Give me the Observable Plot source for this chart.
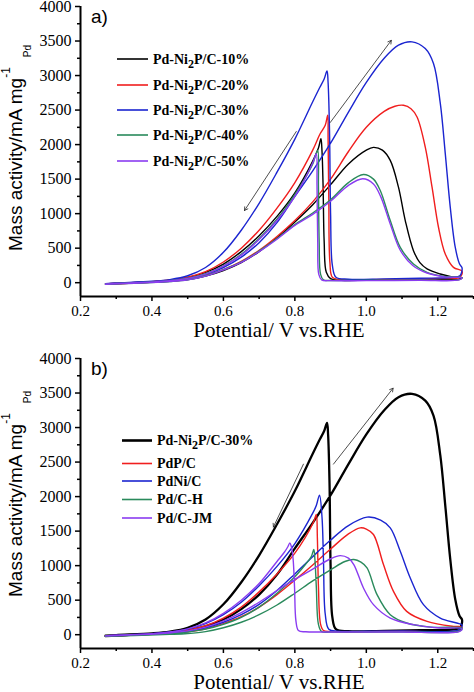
<!DOCTYPE html>
<html>
<head>
<meta charset="utf-8">
<script src="https://cdn.jsdelivr.net/npm/d3@7"></script>
<script src="https://cdn.jsdelivr.net/npm/@observablehq/plot@0.6"></script>
<style>
  html, body { margin: 0; padding: 0; background: #fff; }
  svg { display: block; }
</style>
</head>
<body>
<div id="chart"></div>
<script>
// ---------- axis ticks ----------
const xTicks = [0.2, 0.4, 0.6, 0.8, 1.0, 1.2];
const xMinor = [0.3, 0.5, 0.7, 0.9, 1.1, 1.3];
const yTicks = [0, 500, 1000, 1500, 2000, 2500, 3000, 3500, 4000];
const yMinor = [250, 750, 1250, 1750, 2250, 2750, 3250, 3750];

// ---------- panel a series: [potential V, mass activity mA/mg] ----------
const pd10 = [
  [0.27,-20],[0.35,-5],[0.45,20],[0.5,45],[0.55,95],[0.6,175],[0.65,290],[0.7,450],[0.75,650],[0.8,880],[0.85,1130],[0.9,1420],[0.95,1720],[1.0,1920],[1.02,1960],[1.045,1920],[1.067,1771],[1.09,1383],[1.109,900],[1.132,464],[1.15,290],[1.17,200],[1.207,126],[1.24,85],[1.268,70],
  [1.26,50],[1.2,45],[1.1,40],[1.0,35],[0.93,35],[0.9,60],[0.888,150],[0.882,600],[0.879,1400],[0.876,1900],[0.873,2085],[0.866,1950],[0.85,1760],[0.8,1300],[0.75,960],[0.7,680],[0.65,450],[0.6,270],[0.55,150],[0.5,75],[0.45,35],[0.4,15],[0.3,-10],[0.27,-18]
];
const pd20 = [
  [0.27,-20],[0.35,-5],[0.45,22],[0.5,50],[0.55,105],[0.6,190],[0.65,310],[0.7,470],[0.75,670],[0.8,900],[0.85,1170],[0.9,1500],[0.95,1900],[1.0,2250],[1.05,2480],[1.08,2555],[1.104,2569],[1.125,2520],[1.142,2400],[1.165,1964],[1.184,1383],[1.202,803],[1.221,416],[1.244,222],[1.268,165],
  [1.262,80],[1.2,60],[1.1,50],[1.0,45],[0.93,45],[0.905,80],[0.898,300],[0.895,1200],[0.893,2100],[0.892,2424],[0.885,2280],[0.87,2150],[0.85,1920],[0.8,1450],[0.75,1080],[0.7,760],[0.65,500],[0.6,300],[0.55,160],[0.5,80],[0.45,38],[0.4,15],[0.3,-8],[0.27,-18]
];
const pd30 = [
  [0.27,-20],[0.35,0],[0.45,28],[0.5,60],[0.55,120],[0.6,220],[0.65,370],[0.7,580],[0.75,870],[0.8,1250],[0.85,1620],[0.9,2020],[0.95,2470],[1.0,2900],[1.05,3250],[1.09,3440],[1.128,3488],[1.165,3390],[1.188,3174],[1.207,2600],[1.221,1870],[1.235,1090],[1.249,510],[1.261,270],[1.268,215],
  [1.262,100],[1.24,75],[1.15,65],[1.05,55],[0.95,50],[0.915,80],[0.905,250],[0.9,1000],[0.897,2200],[0.893,2900],[0.890,3067],[0.882,2950],[0.87,2830],[0.85,2620],[0.8,2080],[0.75,1600],[0.7,1150],[0.65,760],[0.6,440],[0.55,220],[0.5,100],[0.45,45],[0.4,20],[0.3,-5],[0.27,-15]
];
const pd40 = [
  [0.27,-22],[0.35,-8],[0.45,18],[0.5,42],[0.55,100],[0.6,190],[0.65,300],[0.7,460],[0.75,640],[0.8,840],[0.85,1010],[0.9,1200],[0.95,1450],[0.992,1567],[1.02,1500],[1.039,1335],[1.067,900],[1.095,512],[1.132,271],[1.17,150],[1.22,90],[1.268,75],
  [1.26,45],[1.15,40],[1.0,35],[0.9,32],[0.88,40],[0.872,120],[0.868,600],[0.866,1400],[0.864,1916],[0.855,1800],[0.85,1720],[0.8,1280],[0.75,920],[0.7,640],[0.65,410],[0.6,245],[0.55,130],[0.5,65],[0.45,30],[0.4,10],[0.3,-12],[0.27,-20]
];
const pd50 = [
  [0.27,-22],[0.35,-8],[0.45,16],[0.5,40],[0.55,95],[0.6,185],[0.65,295],[0.7,450],[0.75,630],[0.8,830],[0.85,990],[0.9,1180],[0.95,1410],[0.99,1505],[1.02,1430],[1.04,1250],[1.067,850],[1.095,470],[1.13,250],[1.17,140],[1.22,85],[1.268,70],
  [1.26,40],[1.15,35],[1.0,30],[0.9,30],[0.875,40],[0.867,120],[0.864,600],[0.862,1400],[0.86,1868],[0.852,1760],[0.8,1250],[0.75,900],[0.7,625],[0.65,400],[0.6,240],[0.55,125],[0.5,62],[0.45,28],[0.4,10],[0.3,-12],[0.27,-20]
];

// ---------- panel b series ----------
const pdpC = [
  [0.27,-20],[0.35,-5],[0.45,20],[0.5,40],[0.55,85],[0.6,160],[0.65,260],[0.7,400],[0.75,580],[0.8,790],[0.85,1010],[0.9,1240],[0.95,1460],[0.983,1547],[1.0,1530],[1.02,1451],[1.048,1016],[1.076,628],[1.113,338],[1.17,193],[1.244,120],[1.268,110],
  [1.26,60],[1.1,50],[1.0,45],[0.9,45],[0.88,60],[0.872,150],[0.866,700],[0.863,1400],[0.86,1742],[0.853,1640],[0.8,1180],[0.75,880],[0.7,620],[0.65,400],[0.6,240],[0.55,130],[0.5,65],[0.45,30],[0.4,12],[0.3,-10],[0.27,-18]
];
const pdNiC = [
  [0.27,-20],[0.35,-5],[0.45,20],[0.5,45],[0.55,100],[0.6,180],[0.65,290],[0.7,440],[0.75,640],[0.8,880],[0.85,1130],[0.9,1370],[0.95,1580],[1.002,1702],[1.04,1660],[1.067,1547],[1.095,1209],[1.123,822],[1.16,435],[1.207,241],[1.253,169],[1.268,140],
  [1.26,70],[1.1,55],[1.0,50],[0.92,50],[0.895,80],[0.885,300],[0.88,1100],[0.876,1700],[0.869,2022],[0.86,1870],[0.85,1760],[0.8,1320],[0.75,990],[0.7,710],[0.65,470],[0.6,290],[0.55,160],[0.5,80],[0.45,38],[0.4,15],[0.3,-8],[0.27,-18]
];
const pdCH = [
  [0.27,-25],[0.35,-12],[0.45,5],[0.5,18],[0.55,45],[0.6,100],[0.65,180],[0.7,290],[0.75,430],[0.8,600],[0.85,780],[0.9,940],[0.94,1060],[0.965,1089],[0.985,1050],[1.002,967],[1.03,580],[1.067,290],[1.113,169],[1.18,110],[1.268,95],
  [1.26,50],[1.1,40],[1.0,38],[0.9,38],[0.875,45],[0.866,150],[0.86,700],[0.856,1100],[0.853,1234],[0.846,1130],[0.83,1020],[0.8,840],[0.75,600],[0.7,400],[0.65,250],[0.6,150],[0.55,80],[0.5,40],[0.45,15],[0.4,5],[0.3,-15],[0.27,-22]
];
const pdCJM = [
  [0.27,-20],[0.35,-3],[0.45,25],[0.5,55],[0.55,110],[0.6,200],[0.65,320],[0.7,470],[0.75,640],[0.8,800],[0.85,950],[0.9,1100],[0.927,1145],[0.95,1110],[0.965,1016],[0.992,677],[1.02,435],[1.067,241],[1.132,145],[1.2,100],[1.268,85],
  [1.26,45],[1.1,40],[1.0,38],[0.9,40],[0.83,42],[0.81,60],[0.803,200],[0.799,700],[0.795,1100],[0.79,1280],[0.786,1330],[0.78,1270],[0.77,1190],[0.75,1060],[0.7,740],[0.65,500],[0.6,310],[0.55,170],[0.5,85],[0.45,40],[0.4,15],[0.3,-8],[0.27,-18]
];

// ---------- series names & colours ----------
const namesA = [["Pd-Ni","2","P/C-10%"],["Pd-Ni","2","P/C-20%"],["Pd-Ni","2","P/C-30%"],["Pd-Ni","2","P/C-40%"],["Pd-Ni","2","P/C-50%"]];
const colorsA = ["#000000", "#f01e1e", "#1b25d0", "#2a8a5c", "#8a3cf0"];
const namesB = [["Pd-Ni","2","P/C-30%"],["PdP/C"],["PdNi/C"],["Pd/C-H"],["Pd/C-JM"]];
const colorsB = ["#000000", "#f01e1e", "#1b25d0", "#2a8a5c", "#8a3cf0"];

// ---------- scan direction arrows (data units) ----------
const arrowsA = [
  {x1: 0.804, y1: 2190, x2: 0.659, y2: 1045},
  {x1: 0.899, y1: 2320, x2: 1.070, y2: 3510}
];
const arrowsB = [
  {x1: 0.824, y1: 2470, x2: 0.740, y2: 1560},
  {x1: 0.908, y1: 2470, x2: 1.075, y2: 3570}
];

const serif = "'Liberation Serif', 'Times New Roman', serif";
const sans = "'Liberation Sans', Arial, sans-serif";

function panel(series, colors, widths, arrows, opts) {
  const marks = [
    Plot.axisX(xTicks, {tickSize: 5, tickPadding: 4, tickFormat: d3.format(".1f"), fontSize: 15, strokeWidth: 1.5, label: null}),
    Plot.axisX(xMinor, {tickSize: 3, tickFormat: () => "", strokeWidth: 1.5, label: null}),
    Plot.axisY(yTicks, {tickSize: 5, tickPadding: 4, tickFormat: d3.format("d"), fontSize: 16, strokeWidth: 1.5, label: null}),
    Plot.axisY(yMinor, {tickSize: 3, tickFormat: () => "", strokeWidth: 1.5, label: null}),
    Plot.ruleX([0.2], {y1: -200, y2: 4000, strokeWidth: 2}),
    Plot.ruleY([-200], {x1: 0.2, x2: 1.3, strokeWidth: 2}),
    ...series.map((s, i) => Plot.line(s, {x: d => d[0], y: d => d[1], stroke: colors[i], strokeWidth: widths[i], curve: "catmull-rom"})),
    Plot.arrow(arrows, {x1: "x1", y1: "y1", x2: "x2", y2: "y2", stroke: "#222", strokeWidth: 0.8, headLength: 7})
  ];
  return Plot.plot({
    width: 474,
    height: 346,
    marginLeft: 80,
    marginRight: 1,
    marginTop: opts.marginTop,
    marginBottom: opts.marginBottom,
    style: {fontFamily: serif, color: "#000", background: "#fff", overflow: "visible"},
    x: {domain: [0.2, 1.3], label: null},
    y: {domain: [-200, 4000], label: null},
    marks
  });
}

function decorate(svg, tag, tagY, axisBottom, legend) {
  const s = d3.select(svg);
  // panel tag
  s.append("text").attr("x", 91).attr("y", tagY).attr("text-anchor", "start")
    .attr("font-family", sans).attr("font-size", 19).attr("fill", "#000").text(tag);
  // y title
  const t = s.append("text").attr("transform", "translate(22,251) rotate(-90)").attr("text-anchor", "start")
    .attr("font-family", sans).attr("font-size", 19).attr("fill", "#000");
  t.append("tspan").text("Mass activity/mA mg");
  t.append("tspan").attr("dy", -12).attr("font-size", 12).text("-1");
  t.append("tspan").attr("dy", 21).attr("dx", 10).attr("font-size", 10).text("Pd");
  // x title
  s.append("text").attr("x", 279).attr("y", axisBottom + 41).attr("text-anchor", "middle")
    .attr("font-family", serif).attr("font-size", 21).attr("fill", "#000").text("Potential/ V vs.RHE");
  // legend
  const g = s.append("g").attr("text-anchor", "start");
  legend.rows.forEach((r, i) => {
    g.append("line").attr("x1", legend.x1).attr("x2", legend.x2).attr("y1", r).attr("y2", r)
      .attr("stroke", legend.colors[i]).attr("stroke-width", legend.widths[i]);
    const tx = g.append("text").attr("x", legend.tx).attr("y", r + 4.5).attr("text-anchor", "start")
      .attr("font-family", serif).attr("font-weight", "bold").attr("font-size", 14).attr("fill", "#000");
    const parts = legend.names[i];
    if (parts.length === 3) {
      tx.append("tspan").text(parts[0]);
      tx.append("tspan").attr("dy", 4).attr("font-size", 12).text(parts[1]);
      tx.append("tspan").attr("dy", -4).text(parts[2]);
    } else {
      tx.text(parts[0]);
    }
  });
}

const svgA = panel([pd10, pd20, pd30, pd40, pd50], colorsA, [1.4, 1.4, 1.4, 1.4, 1.4], arrowsA, {marginTop: 6, marginBottom: 50});
decorate(svgA, "a)", 23, 296, {rows: [59, 85, 110, 135, 161], x1: 117, x2: 148, tx: 153, colors: colorsA, widths: [1.6, 1.6, 1.6, 1.6, 1.6], names: namesA});

const svgB = panel([pd30, pdpC, pdNiC, pdCH, pdCJM], colorsB, [2.3, 1.4, 1.4, 1.4, 1.4], arrowsB, {marginTop: 12, marginBottom: 44});
decorate(svgB, "b)", 29, 302, {rows: [94.5, 117.5, 135, 153.5, 172], x1: 122, x2: 152, tx: 157, colors: colorsB, widths: [2.6, 1.6, 1.6, 1.6, 1.6], names: namesB});

document.getElementById("chart").append(svgA, svgB);
</script>
</body>
</html>
